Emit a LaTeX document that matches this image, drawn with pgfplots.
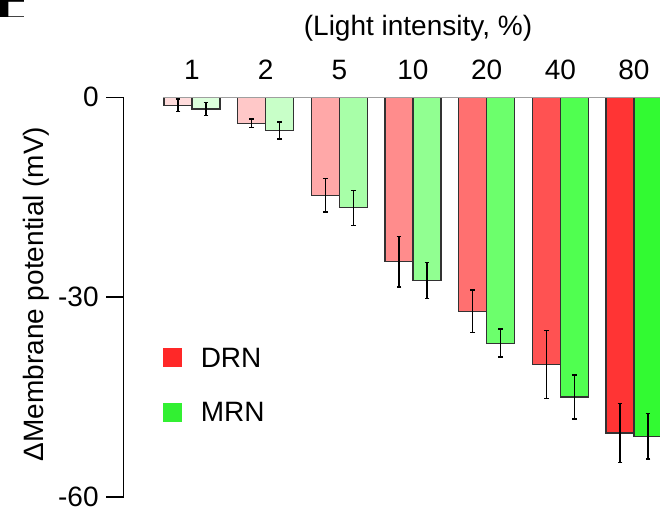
\documentclass[border=0pt]{standalone}
\usepackage{fontspec}
\setmainfont{Liberation Sans}
\usepackage{pgfplots}
\pgfplotsset{compat=1.18}
\definecolor{d1}{RGB}{255,220,220}
\definecolor{d2}{RGB}{255,200,200}
\definecolor{d5}{RGB}{255,168,168}
\definecolor{d10}{RGB}{255,140,140}
\definecolor{d20}{RGB}{255,112,112}
\definecolor{d40}{RGB}{255,82,82}
\definecolor{d80}{RGB}{255,52,52}
\definecolor{m1}{RGB}{220,255,220}
\definecolor{m2}{RGB}{200,255,200}
\definecolor{m5}{RGB}{168,255,168}
\definecolor{m10}{RGB}{145,255,145}
\definecolor{m20}{RGB}{108,255,108}
\definecolor{m40}{RGB}{80,255,80}
\definecolor{m80}{RGB}{50,250,50}
\definecolor{legR}{RGB}{255,40,40}
\definecolor{legG}{RGB}{50,240,50}
\definecolor{edge}{RGB}{50,50,50}
\pgfplotsset{
  barbase/.style={ybar, forget plot, bar width=14pt, bar shift=0pt, draw=edge, line width=0.6pt,
    error bars/y dir=both, error bars/y explicit,
    error bars/error mark=|,
    error bars/error bar style={black, line width=0.55pt},
    error bars/error mark options={black, line width=0.7pt, mark size=1.2pt}},
}
\begin{document}
\begin{tikzpicture}[font=\fontsize{14}{16.8}\selectfont]
\useasboundingbox (0,0) rectangle (330pt,254.5pt);
\begin{scope}
\clip (0pt,246pt) rectangle (11.5pt,254.5pt);
\node[anchor=north west, inner sep=0pt, font=\fontsize{34}{34}\selectfont\bfseries] at (-3pt,257.5pt) {F};
\end{scope}
\node[anchor=base] at (209pt,236.65pt) {(Light intensity, \%)};
\node[rotate=90, anchor=base] at (22pt,107.5pt) {ΔMembrane potential (mV)};
\begin{axis}[
  at={(61.75pt,6pt)}, anchor=south west, scale only axis,
  width=268.25pt, height=199.85pt,
  xmin=-0.930, xmax=6.353, ymin=-60, ymax=0,
  clip=false,
  axis y line*=left, axis x line*=top,
  x axis line style={draw=none},
  y axis line style={line width=0.75pt, black},
  xtick={0,1,2,3,4,5,6},
  xticklabels={1,2,5,10,20,40,80},
  xtick style={draw=none},
  ytick={-60,-30,0},
  yticklabels={-60,-30,0},
  tick align=outside,
  major tick length=8.5pt,
  ytick style={line width=0.75pt, black},
  xticklabel style={anchor=base, inner sep=0pt, yshift=0.65pt},
  yticklabel style={anchor=east, inner sep=0pt, xshift=-3.75pt},
  legend style={at={(axis cs:-0.394,-37.66)}, anchor=north west, draw=none, fill=none,
    inner sep=0pt, outer sep=0pt, row sep=16pt,
    nodes={inner sep=0pt, anchor=base west},
    /tikz/every odd column/.append style={column sep=9.5pt}},
]
% DRN (left bar of each group)
\addplot[barbase, fill=d1]  coordinates {(-0.19,-1.2)  +- (0,0.93)};
\addplot[barbase, fill=d2]  coordinates {(0.81,-3.9)   +- (0,0.67)};
\addplot[barbase, fill=d5]  coordinates {(1.81,-14.7)  +- (0,2.5)};
\addplot[barbase, fill=d10] coordinates {(2.81,-24.7)  +- (0,3.8)};
\addplot[barbase, fill=d20] coordinates {(3.81,-32.1)  +- (0,3.2)};
\addplot[barbase, fill=d40] coordinates {(4.81,-40.1)  +- (0,5.1)};
\addplot[barbase, fill=d80] coordinates {(5.81,-50.4)  +- (0,4.4)};
% MRN (right bar of each group)
\addplot[barbase, fill=m1]  coordinates {(0.19,-1.75)  +- (0,1.0)};
\addplot[barbase, fill=m2]  coordinates {(1.19,-5.0)   +- (0,1.27)};
\addplot[barbase, fill=m5]  coordinates {(2.19,-16.6)  +- (0,2.6)};
\addplot[barbase, fill=m10] coordinates {(3.19,-27.5)  +- (0,2.7)};
\addplot[barbase, fill=m20] coordinates {(4.19,-36.9)  +- (0,2.1)};
\addplot[barbase, fill=m40] coordinates {(5.19,-45.0)  +- (0,3.3)};
\addplot[barbase, fill=m80] coordinates {(6.19,-50.9)  +- (0,3.4)};
% zero line
\addplot[forget plot, draw=gray!75, line width=0.75pt] coordinates {(-0.394,0) (6.6,0)};
% legend
\addlegendimage{legend image code/.code={\fill[legR] (0pt,0.5pt) rectangle (9pt,9.5pt);}}
\addlegendentry{DRN}
\addlegendimage{legend image code/.code={\fill[legG] (0pt,0.5pt) rectangle (9pt,9.5pt);}}
\addlegendentry{MRN}
\end{axis}
\end{tikzpicture}
\end{document}
